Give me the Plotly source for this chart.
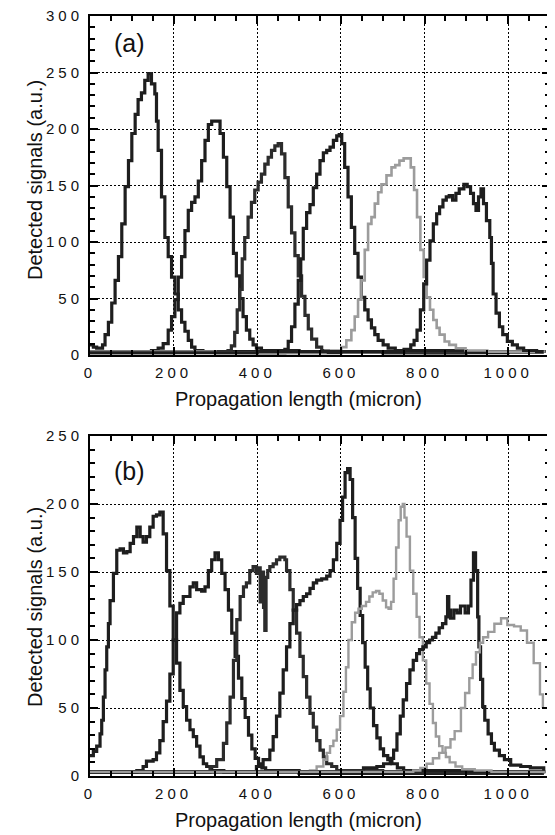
import plotly.graph_objects as go

# ---------------------------------------------------------------
# panel (a) : six detected signal traces (x in micron, y in a.u.)
# ---------------------------------------------------------------
a1_x = [0, 8, 16, 24, 30, 36, 44, 52, 60, 68, 76, 84, 92, 100, 108, 115, 123, 131, 139, 147,
        155, 159, 163, 171, 179, 187, 195, 203, 211, 219, 227, 235, 243, 251, 270, 400, 600, 800, 1000, 1085]
a1_y = [9, 7, 6, 6, 9, 18, 29, 46, 66, 87, 116, 149, 172, 196, 213, 226, 232, 243, 249, 240,
        231, 207, 181, 140, 104, 87, 69, 54, 40, 29, 21, 13, 7, 4, 3, 2, 3, 2, 3, 2]

a2_x = [0, 100, 147, 163, 175, 187, 195, 203, 211, 219, 227, 235, 243, 251, 259, 267, 275, 283, 291,
        303, 311, 319, 327, 335, 343, 350, 358, 366, 374, 382, 390, 398, 410, 500, 700, 900, 1085]
a2_y = [3, 3, 4, 6, 10, 22, 34, 49, 69, 87, 110, 128, 135, 140, 154, 172, 190, 204, 207,
        207, 196, 175, 149, 122, 90, 70, 50, 34, 22, 14, 9, 6, 4, 3, 2, 3, 2]

a3_x = [0, 200, 320, 330, 338, 346, 352, 358, 364, 370, 378, 386, 394, 402, 410, 418, 426, 434, 442,
        450, 458, 466, 474, 482, 490, 498, 506, 514, 522, 530, 542, 554, 570, 700, 900, 1085]
a3_y = [2, 3, 3, 4, 8, 20, 40, 58, 85, 104, 122, 135, 146, 153, 160, 169, 175, 181, 185,
        187, 178, 157, 131, 108, 88, 70, 52, 35, 23, 14, 7, 4, 3, 2, 3, 2]

a4_x = [0, 300, 466, 474, 482, 490, 498, 504, 510, 518, 526, 534, 542, 550, 558, 566, 574, 582, 590,
        596, 602, 609, 617, 625, 633, 641, 649, 657, 665, 673, 681, 689, 701, 713, 730, 900, 1085]
a4_y = [3, 2, 5, 12, 25, 45, 66, 85, 112, 126, 133, 148, 160, 172, 179, 181, 184, 190, 194,
        195, 187, 166, 140, 113, 90, 69, 51, 40, 31, 24, 18, 13, 9, 6, 4, 3, 2]

a5_x = [0, 300, 563, 583, 601, 613, 625, 633, 641, 649, 657, 665, 673, 681, 689, 697, 709, 721, 730,
        740, 750, 760, 767, 775, 782, 790, 798, 805, 813, 821, 829, 836, 848, 859, 875, 898, 950, 1085]
a5_y = [3, 2, 4, 4, 7, 13, 22, 34, 49, 66, 93, 116, 122, 134, 144, 151, 159, 166, 168,
        172, 174, 174, 166, 146, 122, 93, 69, 51, 40, 31, 24, 18, 12, 9, 6, 4, 3, 2]

a6_x = [0, 400, 751, 767, 775, 782, 790, 798, 805, 813, 821, 829, 836, 844, 852, 859, 867, 875, 883,
        894, 902, 910, 917, 923, 929, 935, 941, 948, 956, 960, 964, 971, 979, 987, 998, 1010, 1022,
        1037, 1068, 1085]
a6_y = [2, 3, 5, 9, 13, 22, 40, 63, 84, 101, 116, 125, 131, 137, 140, 141, 137, 143, 147,
        151, 149, 143, 134, 128, 140, 147, 134, 119, 104, 81, 54, 37, 25, 18, 12, 9, 6,
        4, 3, 3]

# ---------------------------------------------------------------
# panel (b) : seven detected signal traces
# ---------------------------------------------------------------
b1_x = [0, 8, 16, 24, 28, 32, 36, 40, 44, 48, 56, 64, 72, 80, 88, 96, 104, 112, 120, 127, 135, 143,
        151, 159, 167, 175, 183, 191, 199, 207, 215, 223, 231, 239, 247, 255, 263, 271, 279, 291,
        320, 500, 700, 900, 1085]
b1_y = [15, 18, 22, 31, 41, 58, 78, 95, 112, 129, 149, 166, 167, 164, 165, 171, 176, 183, 176, 172, 176, 183,
        191, 192, 194, 178, 151, 125, 100, 83, 63, 51, 41, 34, 29, 22, 14, 9, 7, 4,
        3, 2, 3, 2, 2]

b2_x = [0, 100, 112, 127, 135, 151, 159, 167, 175, 183, 191, 199, 207, 215, 223, 231, 239, 247, 255,
        267, 275, 283, 291, 299, 307, 315, 323, 331, 339, 347, 355, 363, 371, 379, 387, 395, 403,
        411, 420, 500, 700, 900, 1085]
b2_y = [3, 3, 4, 7, 11, 12, 17, 26, 40, 55, 75, 100, 120, 127, 132, 132, 139, 142, 137,
        136, 139, 151, 159, 164, 159, 149, 137, 122, 105, 88, 72, 57, 43, 30, 20, 13, 9,
        6, 4, 3, 2, 3, 2]

b3_x = [0, 200, 287, 303, 319, 327, 335, 343, 351, 359, 367, 374, 382, 390, 398, 403, 407, 411,
        415, 418, 421, 425, 430, 438, 446, 454, 462, 466, 470, 478, 486, 494, 502, 510, 518,
        526, 534, 542, 550, 558, 566, 578, 590, 700, 900, 1085]
b3_y = [3, 3, 7, 12, 24, 39, 58, 85, 115, 132, 139, 142, 151, 154, 149, 153, 128, 150,
        124, 107, 146, 151, 154, 156, 159, 161, 161, 159, 151, 137, 122, 105, 88, 73, 58,
        46, 36, 26, 19, 14, 9, 7, 4, 3, 2, 2]

b4_x = [0, 300, 398, 414, 430, 438, 446, 454, 462, 470, 478, 486, 494, 502, 510, 518, 526, 534, 542,
        554, 566, 574, 582, 590, 598, 604, 610, 616, 622, 628, 634, 640, 646, 652, 658, 664, 670,
        678, 686, 694, 702, 712, 722, 735, 750, 900, 1085]
b4_y = [3, 3, 7, 12, 19, 29, 44, 61, 78, 95, 112, 122, 126, 129, 132, 134, 138, 142, 144,
        145, 147, 151, 159, 171, 188, 205, 223, 226, 218, 190, 160, 138, 118, 98, 80, 64, 50,
        37, 28, 20, 15, 12, 9, 6, 4, 3, 2]

b5_x = [0, 400, 526, 542, 558, 566, 574, 582, 590, 598, 606, 612, 618, 626, 634, 642, 650, 660, 668,
        676, 684, 692, 700, 708, 714, 720, 726, 732, 738, 743, 748, 752, 757, 765, 773, 781, 788,
        796, 804, 812, 820, 827, 835, 843, 851, 860, 874, 890, 920, 960, 1085]
b5_y = [3, 3, 4, 7, 12, 17, 22, 26, 34, 44, 62, 80, 100, 113, 120, 123, 125, 128, 132,
        135, 136, 134, 129, 124, 123, 128, 145, 168, 188, 198, 200, 190, 176, 151, 134, 117, 102,
        85, 68, 53, 39, 29, 22, 17, 14, 10, 7, 5, 4, 3, 2]

b6_x = [0, 400, 654, 686, 702, 718, 726, 734, 742, 749, 757, 765, 773, 781, 788, 796, 804, 812, 819,
        827, 835, 843, 851, 855, 858, 862, 870, 878, 886, 897, 905, 911, 917, 922, 927, 930, 934,
        939, 944, 952, 960, 967, 979, 991, 1006, 1030, 1053, 1085]
b6_y = [3, 3, 6, 7, 9, 13, 19, 31, 44, 56, 68, 78, 85, 90, 93, 95, 98, 100, 102,
        105, 109, 112, 117, 132, 122, 116, 122, 120, 125, 120, 125, 144, 164, 151, 117, 95, 71,
        51, 41, 31, 24, 19, 15, 12, 8, 7, 6, 4]

b7_x = [0, 500, 773, 790, 805, 820, 835, 850, 862, 872, 887, 897, 907, 915, 923, 932, 940, 952, 967,
        983, 998, 1014, 1030, 1045, 1061, 1076, 1083]
b7_y = [3, 3, 4, 6, 9, 13, 17, 21, 27, 33, 50, 61, 72, 82, 91, 98, 102, 106, 112,
        116, 111, 110, 107, 98, 83, 60, 50]

x_ticks = [0, 200, 400, 600, 800, 1000]
ya_ticks = [0, 50, 100, 150, 200, 250, 300]
yb_ticks = [0, 50, 100, 150, 200, 250]

DARK = "#1e1e1e"
GRAY = "#9c9c9c"
FONT = "Liberation Sans"

# the page body keeps its 8px default margin, so the figure is drawn that much smaller
OFF = 8
W, H = 555 - OFF, 835 - OFF


def px(x):
    return (x - OFF) / W


def py(y):
    return 1 - (y - OFF) / H


panel_a = [(a1_x, a1_y, DARK), (a2_x, a2_y, DARK), (a3_x, a3_y, "#2c2c2c"),
           (a4_x, a4_y, DARK), (a5_x, a5_y, GRAY), (a6_x, a6_y, DARK)]
panel_b = [(b1_x, b1_y, DARK), (b2_x, b2_y, DARK), (b3_x, b3_y, "#2c2c2c"), (b4_x, b4_y, DARK),
           (b5_x, b5_y, GRAY), (b6_x, b6_y, DARK), (b7_x, b7_y, GRAY)]

fig = go.Figure()
for xs, ys, col in panel_a:
    fig.add_trace(go.Scatter(x=xs, y=ys, mode="lines", line=dict(color=col, width=3.2 if col != GRAY else 2.6, shape="hv"),
                             xaxis="x", yaxis="y", showlegend=False, hoverinfo="skip"))
for xs, ys, col in panel_b:
    fig.add_trace(go.Scatter(x=xs, y=ys, mode="lines", line=dict(color=col, width=3.2 if col != GRAY else 2.4, shape="hv"),
                             xaxis="x2", yaxis="y2", showlegend=False, hoverinfo="skip"))


def spaced(vals):
    return ['<span style="letter-spacing:4px">%d</span>' % v for v in vals]


def common(tickv):
    return dict(tickvals=tickv, ticktext=spaced(tickv), ticklabeloverflow="allow",
                ticks="inside", ticklen=8, tickwidth=1.5, tickcolor="black", automargin=False,
                showline=True, linewidth=2, linecolor="black", mirror="ticks",
                showgrid=True, gridcolor="black", gridwidth=1.4, griddash="2px,2px", zeroline=False,
                tickfont=dict(family=FONT, size=15, color="#111"))


def xax(domain, anchor):
    d = common(x_ticks)
    d.update(domain=domain, anchor=anchor, range=[0, 1100], ticklabelstandoff=3,
             minor=dict(dtick=50, tick0=0, ticks="inside", ticklen=5, tickwidth=1.5, tickcolor="black", showgrid=False))
    return d


def yax(domain, anchor, top, tickv):
    d = common(tickv)
    d.update(domain=domain, anchor=anchor, range=[0, top], ticklabelstandoff=2,
             minor=dict(dtick=10, tick0=0, ticks="inside", ticklen=5, tickwidth=1.5, tickcolor="black", showgrid=False))
    return d


xdom = [px(90), px(550)]
fig.update_layout(
    width=W, height=H, margin=dict(l=0, r=0, t=0, b=0, autoexpand=False),
    paper_bgcolor="white", plot_bgcolor="white",
    xaxis=xax(xdom, "y"),
    yaxis=yax([py(355), py(16)], "x", 300, ya_ticks),
    xaxis2=xax(xdom, "y2"),
    yaxis2=yax([py(776), py(436)], "x2", 250, yb_ticks),
)

ann = []
for lab, y in [("(a)", 43), ("(b)", 471)]:
    ann.append(dict(text=lab, x=px(129), y=py(y), xref="paper", yref="paper", showarrow=False,
                    xanchor="center", yanchor="middle", font=dict(family=FONT, size=25, color="#111")))
for y in [399, 820]:
    ann.append(dict(text="Propagation length (micron)", x=px(298), y=py(y), xref="paper", yref="paper",
                    showarrow=False, xanchor="center", yanchor="middle",
                    font=dict(family=FONT, size=20, color="#111")))
for y in [180, 607]:
    ann.append(dict(text="Detected signals (a.u.)", x=px(35), y=py(y), xref="paper", yref="paper",
                    showarrow=False, textangle=-90, xanchor="center", yanchor="middle",
                    font=dict(family=FONT, size=20, color="#111")))
fig.update_layout(annotations=ann)

fig.write_html("out.html")
